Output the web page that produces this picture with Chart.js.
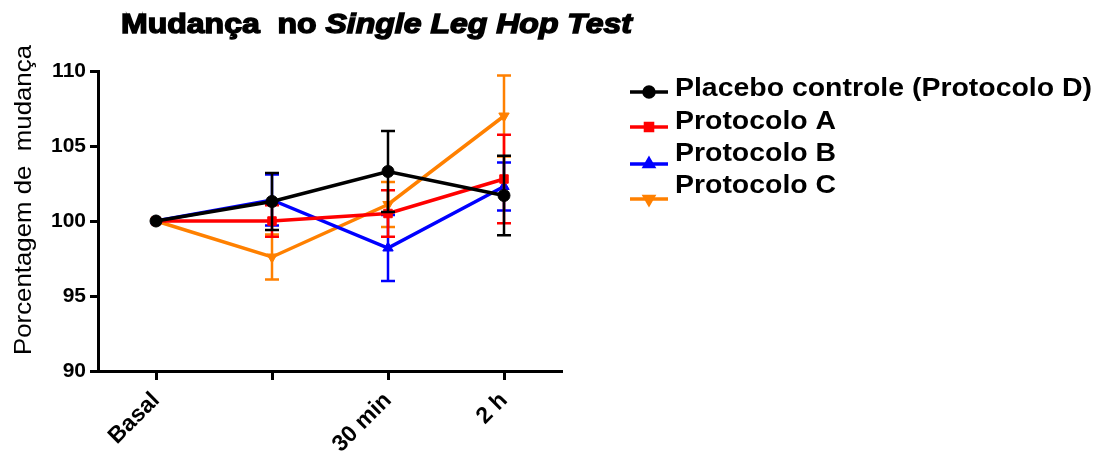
<!DOCTYPE html>
<html>
<head>
<meta charset="utf-8">
<script src="https://cdn.jsdelivr.net/npm/chart.js@4"></script>
<style>
  body { margin: 0; background: #fff; }
</style>
</head>
<body>
<canvas id="hopChart" width="1096" height="454"></canvas>
<script>
// dados
const labels = ['Basal', '', '30 min', '2 h'];
const placebo = [100, 101.3, 103.3, 101.7];
const placeboErr = [0, 1.9, 2.7, 2.65];
const protA = [100, 100.0, 100.5, 102.8];
const protAErr = [0, 1.05, 1.55, 2.95];
const protB = [100, 101.4, 98.2, 102.3];
const protBErr = [0, 1.7, 2.2, 1.6];
const protC = [100, 97.6, 101.1, 107.0];
const protCErr = [0, 1.5, 1.5, 2.7];
const yTicks = [90, 95, 100, 105, 110];

const errors = [placeboErr, protAErr, protBErr, protCErr];

// barras de erro, desenhadas logo depois de cada série
const errorBars = {
  id: 'errorBars',
  afterDatasetDraw(chart, args) {
    const ctx = chart.ctx;
    const ds = chart.data.datasets[args.index];
    const err = errors[args.index];
    const y = chart.scales.y;
    ctx.save();
    ctx.strokeStyle = ds.borderColor;
    ctx.lineWidth = 2.5;
    args.meta.data.forEach((pt, i) => {
      if (!err[i]) return;
      const top = y.getPixelForValue(ds.data[i] + err[i]);
      const bot = y.getPixelForValue(ds.data[i] - err[i]);
      ctx.beginPath();
      ctx.moveTo(pt.x, top); ctx.lineTo(pt.x, bot);
      ctx.moveTo(pt.x - 7, top); ctx.lineTo(pt.x + 7, top);
      ctx.moveTo(pt.x - 7, bot); ctx.lineTo(pt.x + 7, bot);
      ctx.stroke();
    });
    ctx.restore();
  }
};

// título (parte em itálico), título do eixo y e legenda à direita
const extras = {
  id: 'extras',
  afterDraw(chart) {
    const ctx = chart.ctx;
    ctx.save();
    ctx.fillStyle = '#000';
    ctx.strokeStyle = '#000';
    ctx.textBaseline = 'alphabetic';
    const fA = 'bold 27px "Liberation Sans", Arial';
    const fB = 'italic bold 27px "Liberation Sans", Arial';
    const tA = 'Mudança  no ', tB = 'Single Leg Hop Test';
    ctx.font = fA; const wA = ctx.measureText(tA).width;
    ctx.font = fB; const wB = ctx.measureText(tB).width;
    ctx.save();
    ctx.translate(121, 33);
    ctx.scale(511 / (wA + wB), 1);
    ctx.lineWidth = 1.4;
    ctx.font = fA; ctx.fillText(tA, 0, 0); ctx.strokeText(tA, 0, 0);
    ctx.font = fB; ctx.fillText(tB, wA, 0); ctx.strokeText(tB, wA, 0);
    ctx.restore();

    // título do eixo y
    ctx.save();
    ctx.translate(31, 200);
    ctx.rotate(-Math.PI / 2);
    ctx.textAlign = 'center';
    ctx.font = '24px "Liberation Sans", Arial';
    const yt = 'Porcentagem de  mudança';
    ctx.scale(310 / ctx.measureText(yt).width, 1);
    ctx.fillText(yt, 0, 0);
    ctx.restore();

    const textY = [96, 129, 161, 193];
    const markY = [92, 127, 164, 199];
    ctx.font = 'bold 25px "Liberation Sans", Arial';
    const sx = 417 / ctx.measureText(chart.data.datasets[0].label).width;
    chart.data.datasets.forEach((ds, i) => {
      ctx.strokeStyle = ds.borderColor;
      ctx.lineWidth = 3.5;
      ctx.beginPath();
      ctx.moveTo(630, markY[i]); ctx.lineTo(668, markY[i]);
      ctx.stroke();
      ctx.fillStyle = ds.borderColor;
      Chart.helpers.drawPoint(ctx, {
        pointStyle: ds.pointStyle, radius: 5, rotation: ds.pointRotation || 0, borderWidth: 1
      }, 649, markY[i]);
      ctx.save();
      ctx.translate(675, textY[i]);
      ctx.scale(sx, 1);
      ctx.fillStyle = '#000';
      ctx.fillText(ds.label, 0, 0);
      ctx.restore();
    });
    ctx.restore();
  }
};

function serie(label, data, color, style, rot) {
  return {
    label, data,
    borderColor: color, backgroundColor: color,
    borderWidth: 3.5, pointStyle: style, pointRotation: rot || 0,
    pointRadius: 6, pointBorderWidth: 1, tension: 0, fill: false
  };
}

new Chart(document.getElementById('hopChart'), {
  type: 'line',
  data: {
    labels: labels,
    datasets: [
      serie('Placebo controle (Protocolo D)', placebo, '#000000', 'circle'),
      serie('Protocolo A', protA, '#ff0000', 'rect'),
      serie('Protocolo B', protB, '#0000ff', 'triangle'),
      serie('Protocolo C', protC, '#ff8000', 'triangle', 180)
    ]
  },
  plugins: [errorBars, extras],
  options: {
    responsive: false,
    animation: false,
    layout: { padding: { top: 71, right: 534, left: 0, bottom: 0 } },
    plugins: { legend: { display: false }, tooltip: { enabled: false } },
    scales: {
      x: {
        type: 'category',
        offset: true,
        afterFit: s => { s.height = 83; },
        grid: { drawOnChartArea: false, drawTicks: true, tickLength: 9, tickWidth: 3, tickColor: '#000', offset: false },
        border: { display: true, width: 3, color: '#000' },
        ticks: {
          color: '#000', font: { family: '"Liberation Sans", Arial', size: 23, weight: 'bold' },
          minRotation: 45, maxRotation: 45, padding: 7
        }
      },
      y: {
        min: 90, max: 110,
        afterFit: s => { s.width = 98; },
        afterBuildTicks: s => { s.ticks = yTicks.map(v => ({ value: v })); },
        grid: { drawOnChartArea: false, drawTicks: true, tickLength: 8, tickWidth: 3, tickColor: '#000' },
        border: { display: true, width: 3, color: '#000' },
        ticks: {
          color: '#000', padding: 4,
          font: { family: '"Liberation Sans", Arial', size: 21, weight: 'bold' }
        }
      }
    }
  }
});
</script>
</body>
</html>
